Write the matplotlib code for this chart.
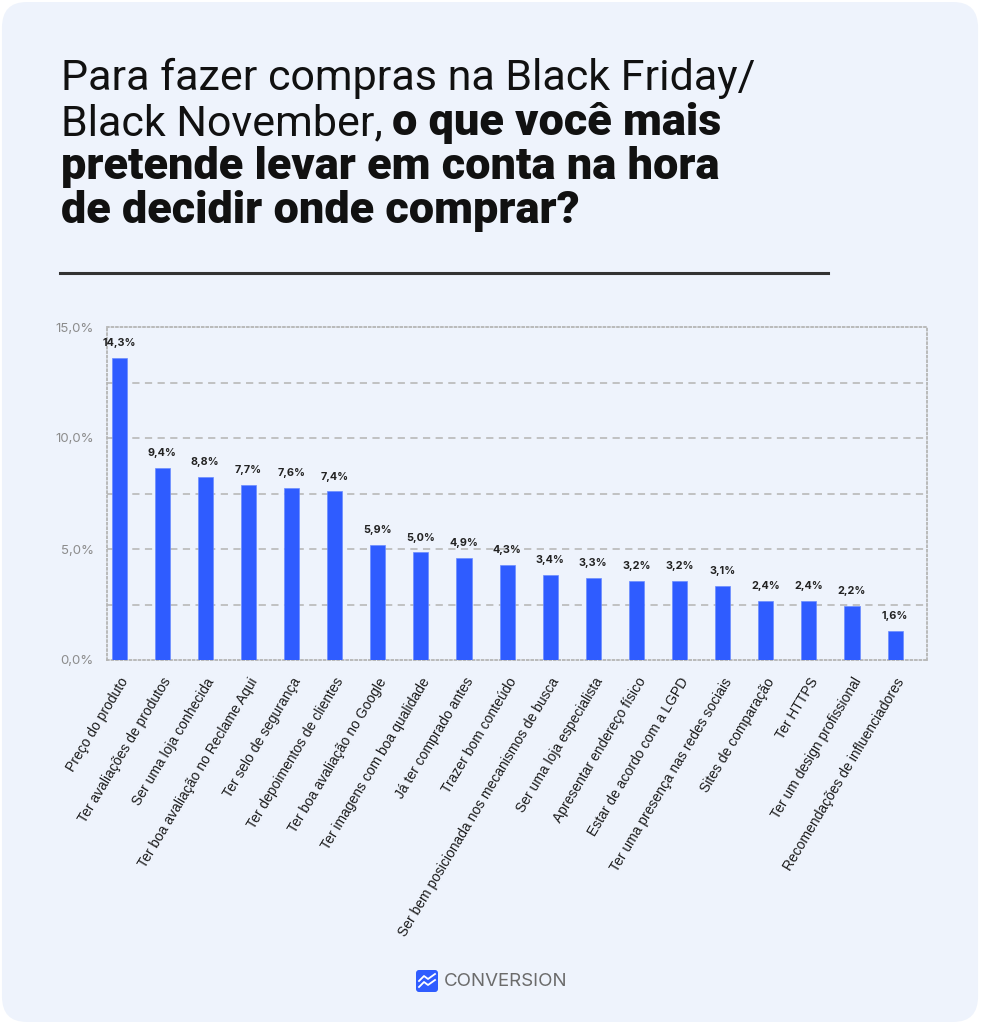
import matplotlib
matplotlib.use('Agg')

import numpy as np
from matplotlib import pyplot as plt
from matplotlib.patches import FancyBboxPatch

# categories and values (bar heights, labels as printed)
categorias = [
    'Preço do produto', 'Ter avaliações de produtos', 'Ser uma loja conhecida',
    'Ter boa avaliação no Reclame Aqui', 'Ter selo de segurança',
    'Ter depoimentos de clientes', 'Ter boa avaliação no Google',
    'Ter imagens com boa qualidade', 'Já ter comprado antes', 'Trazer bom conteúdo',
    'Ser bem posicionada nos mecanismos de busca', 'Ser uma loja especialista',
    'Apresentar endereço físico', 'Estar de acordo com a LGPD',
    'Ter uma presença nas redes sociais', 'Sites de comparação', 'Ter HTTPS',
    'Ter um design profissional', 'Recomendações de influenciadores',
]
alturas = [13.6, 8.65, 8.25, 7.9, 7.75, 7.6, 5.2, 4.85, 4.6, 4.3,
           3.85, 3.7, 3.55, 3.55, 3.35, 2.65, 2.65, 2.45, 1.3]
rotulos = ['14,3%', '9,4%', '8,8%', '7,7%', '7,6%', '7,4%', '5,9%', '5,0%', '4,9%',
           '4,3%', '3,4%', '3,3%', '3,2%', '3,2%', '3,1%', '2,4%', '2,4%', '2,2%', '1,6%']
yticks = [0, 5, 10, 15]
yticklabels = ['0,0%', '5,0%', '10,0%', '15,0%']
grid_y = [2.5, 5, 7.5, 10, 12.5]

BG = '#EEF3FC'
AZUL = '#2F5CFF'

fig = plt.figure(figsize=(9.82, 10.24), dpi=100)
fig.patch.set_facecolor('white')
painel = FancyBboxPatch((0.002, 0.002), 0.994, 0.996, boxstyle='round,pad=0,rounding_size=0.025',
                        transform=fig.transFigure, facecolor=BG, edgecolor='none', zorder=-10)
fig.patches.append(painel)

W, H = 982.0, 1024.0
def fx(px):
    return px / W
def fy(py):
    return 1 - py / H

# title
tfont = 'Roboto'
fig.text(fx(61), fy(90), 'Para fazer compras na Black Friday/', fontsize=31,
         family=tfont, color='#111111', va='baseline')
t1 = fig.text(fx(61), fy(135), 'Black November,', fontsize=31,
              family=tfont, color='#111111', va='baseline')
fig.canvas.draw()
r = fig.canvas.get_renderer()
bb = t1.get_window_extent(r)
fig.text(bb.x1 / W + fx(9), fy(135), 'o que você mais', fontsize=32.5, family=tfont,
         fontweight='heavy', color='#111111', va='baseline')
fig.text(fx(61), fy(179), 'pretende levar em conta na hora', fontsize=32.5,
         family=tfont, fontweight='heavy', color='#111111', va='baseline')
fig.text(fx(61), fy(223), 'de decidir onde comprar?', fontsize=32.5,
         family=tfont, fontweight='heavy', color='#111111', va='baseline')

fig.add_artist(plt.Line2D([fx(60), fx(828)], [fy(273), fy(273)], color='#333333',
                          linewidth=2.2, transform=fig.transFigure))

# chart
ax = fig.add_axes([fx(107), fy(660), fx(927) - fx(107), fy(327) - fy(660)])
ax.set_facecolor(BG)
x = np.arange(len(categorias))
ax.bar(x, alturas, width=0.35, color=AZUL, edgecolor='#6B8CFF', linewidth=0.5, zorder=3)
for xi, h, s in zip(x, alturas, rotulos):
    ax.annotate(s, (xi, h), xytext=(0, 7), textcoords='offset points', ha='center',
                va='bottom', fontsize=7.8, fontweight='bold', color='#222222', family='Inter')
for g in grid_y:
    ax.axhline(g, color='#BDBDBD', linewidth=1.3, linestyle=(0, (4, 3)), zorder=1)
ax.set_xlim(-0.28, 18.74)
ax.set_ylim(0, 15)
ax.set_yticks(yticks)
ax.set_yticklabels(yticklabels, fontsize=9.5, color='#8C8C8C', family='Inter')
ax.set_xticks(x)
ax.set_xticklabels(categorias, rotation=59, ha='right', va='top', rotation_mode='anchor',
                   fontsize=10, color='#1A1A1A', family='Liberation Sans')
ax.tick_params(axis='both', length=0)
ax.tick_params(axis='y', pad=9.5)
ax.tick_params(axis='x', pad=11)
for sp in ax.spines.values():
    sp.set_linestyle((0, (1, 1.5)))
    sp.set_color('#B5B5B5')
    sp.set_linewidth(1.3)

# logo
icone = FancyBboxPatch((fx(416), fy(992)), fx(22), fy(970) - fy(992),
                       boxstyle='round,pad=0,rounding_size=0.003', transform=fig.transFigure,
                       facecolor='#2F5CFF', edgecolor='none')
fig.patches.append(icone)
fig.add_artist(plt.Line2D([fx(419), fx(424), fx(428), fx(435)],
                          [fy(981), fy(976), fy(979), fy(974)], color='white', linewidth=1.3,
                          transform=fig.transFigure))
fig.add_artist(plt.Line2D([fx(419), fx(424), fx(428), fx(435)],
                          [fy(987), fy(982), fy(985), fy(980)], color='white', linewidth=1.3,
                          transform=fig.transFigure))
fig.text(fx(444), fy(981), 'CONVERSION', fontsize=13.5, family='Inter', color='#6B6B6B',
         va='center', ha='left')

plt.savefig('out.png', dpi=100, facecolor=fig.get_facecolor())
